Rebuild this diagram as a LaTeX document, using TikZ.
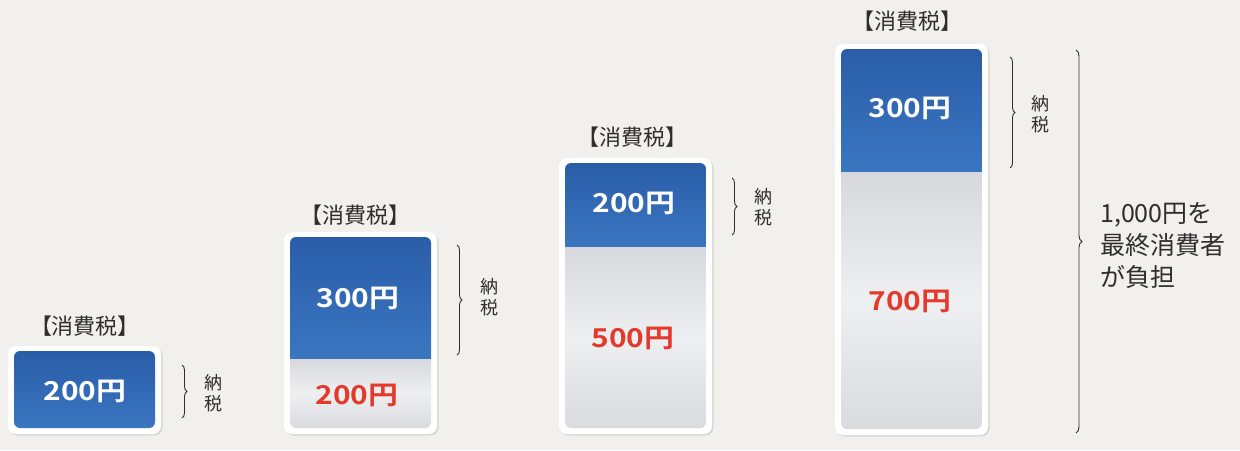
\documentclass[tikz,border=0pt]{standalone}
\usepackage{fontspec}
\setmainfont{Noto Sans CJK JP}[BoldFont={Noto Sans CJK JP Bold}]
\newfontfamily\amtfont{Noto Sans CJK JP Bold}[FakeStretch=1.15]
\usetikzlibrary{decorations.pathreplacing,shadows}
\definecolor{bg}{HTML}{F2F0EC}
\definecolor{blueT}{HTML}{2A5DA8}
\definecolor{blueB}{HTML}{3A76C0}
\definecolor{grayT}{HTML}{D6D8DC}
\definecolor{grayM}{HTML}{EEEFF1}
\definecolor{grayB}{HTML}{D9DBDF}
\definecolor{amtred}{HTML}{E43A2B}
\definecolor{ink}{HTML}{2E2E2E}
\newcommand\taxcol[5]{%
  \fill[white, rounded corners=8pt,
        drop shadow={opacity=0.22, shadow xshift=1.5pt, shadow yshift=-1.5pt}]
    ({#1-6},{#3-5}) rectangle ({#2+6},{#5+6});
  \begin{scope}
    \clip[rounded corners=6pt] (#1,#3) rectangle (#2,#5);
    \shade[top color=grayT, bottom color=grayB, middle color=grayM] (#1,#4) rectangle (#2,#5);
    \shade[top color=blueT, bottom color=blueB] (#1,#3) rectangle (#2,#4);
  \end{scope}}
\begin{document}
\begin{tikzpicture}[x=1pt,y=-1pt,
  hdr/.style={font=\fontsize{22}{24}\selectfont, text=ink, inner sep=0pt},
  amt/.style={font=\fontsize{26}{28}\amtfont, inner sep=0pt},
  amtw/.style={amt, text=white},
  amtr/.style={amt, text=amtred},
  nz/.style={font=\fontsize{18}{21}\selectfont, text=ink, align=center, inner sep=0pt},
  total/.style={font=\fontsize{25}{32}\selectfont, text=ink, align=left, inner sep=0pt, anchor=west},
  brc/.style={decorate, decoration={brace, amplitude=5pt}, line width=0.9pt, draw=ink}]
\useasboundingbox (0,0) rectangle (1240,450);
\fill[bg] (0,0) rectangle (1240,450);

% columns
\taxcol{14}{155}{351}{428}{428}
\taxcol{290}{431}{237}{358}{428}
\taxcol{565}{706}{163}{246}{428}
\taxcol{841}{982}{49}{171}{429}

% headers
\node[hdr] (h1) at (85,326) {【消費税】};
\node[hdr] (h2) at (355,215) {【消費税】};
\node[hdr] (h3) at (632,137) {【消費税】};
\node[hdr] (h4) at (907,21) {【消費税】};

% amounts
\node[amtw] (a1) at (85,391) {200円};
\node[amtw] (a2) at (358,298) {300円};
\node[amtr] (r2) at (357,395) {200円};
\node[amtw] (a3) at (634,203) {200円};
\node[amtr] (r3) at (633,338) {500円};
\node[amtw] (a4) at (910,108) {300円};
\node[amtr] (r4) at (910,301) {700円};

% braces
\coordinate (b1t) at (182,365); \coordinate (b1b) at (182,418);
\coordinate (b2t) at (457,245); \coordinate (b2b) at (457,355);
\coordinate (b3t) at (732,178); \coordinate (b3b) at (732,235);
\coordinate (b4t) at (1010,57); \coordinate (b4b) at (1010,168);
\coordinate (bTt) at (1076,50); \coordinate (bTb) at (1076,433);
\draw[brc] (b1t) -- (b1b);
\draw[brc] (b2t) -- (b2b);
\draw[brc] (b3t) -- (b3b);
\draw[brc] (b4t) -- (b4b);
\draw[brc, decoration={brace, amplitude=6pt}] (bTt) -- (bTb);

% 納税 labels
\node[nz] (n1) at (213,393) {納\\税};
\node[nz] (n2) at (489,297) {納\\税};
\node[nz] (n3) at (763,207) {納\\税};
\node[nz] (n4) at (1040,114) {納\\税};

% total text
\node[total] (tot) at (1100,246) {1,000円を\\最終消費者\\が負担};
\end{tikzpicture}
\end{document}
